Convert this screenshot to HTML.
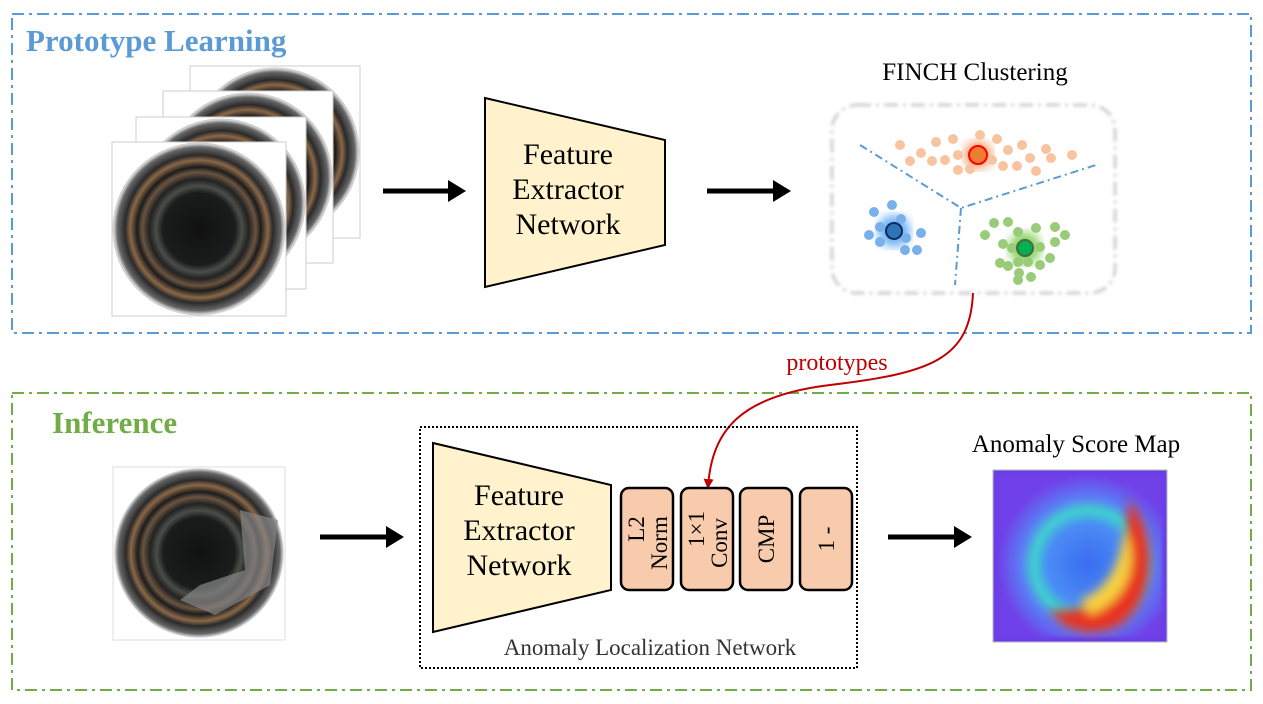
<!DOCTYPE html>
<html><head><meta charset="utf-8"><style>body{margin:0;background:#fff}svg{display:block}text{font-family:"Liberation Serif",serif}</style></head><body>
<svg width="1263" height="704" viewBox="0 0 1263 704" xmlns="http://www.w3.org/2000/svg">
<defs>
<radialGradient id="ring" cx="50%" cy="50%" r="50%">
<stop offset="0" stop-color="#111"/><stop offset="0.42" stop-color="#1a1c1c"/><stop offset="0.5" stop-color="#4a4d48"/><stop offset="0.58" stop-color="#222"/><stop offset="0.66" stop-color="#6a5440"/><stop offset="0.72" stop-color="#1c1c1c"/><stop offset="0.8" stop-color="#8a6848"/><stop offset="0.86" stop-color="#2a2a2a"/><stop offset="0.95" stop-color="#666"/><stop offset="1" stop-color="#eee"/></radialGradient>
<radialGradient id="heat" cx="55%" cy="55%" r="55%"><stop offset="0" stop-color="#3a6cf0"/><stop offset="0.45" stop-color="#4a8cf5"/><stop offset="0.6" stop-color="#40d0d0"/><stop offset="0.75" stop-color="#5a7cf5"/><stop offset="1" stop-color="#7040e8"/></radialGradient>
<filter id="bl"><feGaussianBlur stdDeviation="5"/></filter>
<filter id="b2"><feGaussianBlur stdDeviation="1.5"/></filter>
<marker id="ar" markerWidth="10" markerHeight="10" refX="8" refY="5" orient="auto" markerUnits="userSpaceOnUse"><path d="M0,0 L10,5 L0,10 z" fill="#c00000"/></marker>
</defs>
<rect x="12" y="14" width="1239" height="319" fill="none" stroke="#5b9bd5" stroke-width="2" stroke-dasharray="12,5,3,5"/>
<text x="26" y="51" font-size="31" font-weight="bold" fill="#5b9bd5">Prototype Learning</text>
<rect x="12" y="393" width="1239" height="297" fill="none" stroke="#70ad47" stroke-width="2" stroke-dasharray="12,5,3,5"/>
<text x="52" y="433" font-size="31" font-weight="bold" fill="#70ad47">Inference</text>
<g stroke="#ccc" stroke-width="1">
<rect x="190" y="66" width="170" height="172" fill="#fff"/><circle cx="275" cy="152" r="84" fill="url(#ring)"/>
<rect x="163" y="91" width="170" height="172" fill="#fff"/><circle cx="248" cy="177" r="84" fill="url(#ring)"/>
<rect x="136" y="117" width="170" height="172" fill="#fff"/><circle cx="221" cy="203" r="84" fill="url(#ring)"/>
<rect x="112" y="142" width="174" height="174" fill="#fff"/><circle cx="199" cy="229" r="86" fill="url(#ring)"/>
</g>
<g stroke="#000" stroke-width="5"><line x1="383" y1="191" x2="450" y2="191"/><line x1="707" y1="191" x2="775" y2="191"/><line x1="320" y1="537" x2="388" y2="537"/><line x1="888" y1="537" x2="956" y2="537"/></g>
<g fill="#000"><path d="M448,180 L466,191 L448,202z"/><path d="M773,180 L791,191 L773,202z"/><path d="M386,526 L404,537 L386,548z"/><path d="M954,526 L972,537 L954,548z"/></g>
<path d="M485,98 L665,140 L665,245 L485,287 z" fill="#fff2cc" stroke="#000" stroke-width="2"/>
<text font-size="30" text-anchor="middle"><tspan x="568" y="164">Feature</tspan><tspan x="568" y="199">Extractor</tspan><tspan x="568" y="234">Network</tspan></text>
<text x="975" y="80" font-size="25" text-anchor="middle">FINCH Clustering</text>
<rect x="832" y="105" width="283" height="188" rx="25" fill="#fff" stroke="#ccc" stroke-width="3" stroke-dasharray="14,5,3,5" filter="url(#b2)"/>
<g stroke="#5b9bd5" stroke-width="2" stroke-dasharray="8,4,2,4" fill="none"><path d="M860,145 L961,208 L1096,165"/><path d="M961,208 L955,285"/></g>
<circle cx="978" cy="155" r="14" fill="#f4a070" filter="url(#bl)"/>
<circle cx="894" cy="231" r="16" fill="#6aaef5" filter="url(#bl)"/>
<circle cx="1025" cy="248" r="16" fill="#8ad060" filter="url(#bl)"/>
<g fill="#f8c4a0"><circle cx="900" cy="145" r="5"/><circle cx="910" cy="161" r="5"/><circle cx="921" cy="153" r="5"/><circle cx="932" cy="161" r="5"/><circle cx="936" cy="142" r="5"/><circle cx="945" cy="160" r="5"/><circle cx="953" cy="139" r="5"/><circle cx="958" cy="155" r="5"/><circle cx="958" cy="170" r="5"/><circle cx="970" cy="169" r="5"/><circle cx="980" cy="135" r="5"/><circle cx="997" cy="139" r="5"/><circle cx="992" cy="160" r="5"/><circle cx="1003" cy="166" r="5"/><circle cx="1008" cy="150" r="5"/><circle cx="1017" cy="166" r="5"/><circle cx="1022" cy="145" r="5"/><circle cx="1030" cy="158" r="5"/><circle cx="1036" cy="171" r="5"/><circle cx="1046" cy="149" r="5"/><circle cx="1051" cy="158" r="5"/><circle cx="1072" cy="155" r="5"/></g>
<g fill="#78b0ec"><circle cx="874" cy="212" r="5"/><circle cx="892" cy="205" r="5"/><circle cx="869" cy="235" r="5"/><circle cx="880" cy="227" r="5"/><circle cx="880" cy="242" r="5"/><circle cx="901" cy="219" r="5"/><circle cx="906" cy="238" r="5"/><circle cx="921" cy="233" r="5"/><circle cx="905" cy="250" r="5"/><circle cx="917" cy="250" r="5"/></g>
<g fill="#98cc78"><circle cx="985" cy="235" r="5"/><circle cx="994" cy="223" r="5"/><circle cx="1008" cy="222" r="5"/><circle cx="1018" cy="232" r="5"/><circle cx="1036" cy="228" r="5"/><circle cx="1055" cy="227" r="5"/><circle cx="1065" cy="235" r="5"/><circle cx="1055" cy="242" r="5"/><circle cx="1003" cy="244" r="5"/><circle cx="1012" cy="248" r="5"/><circle cx="1040" cy="247" r="5"/><circle cx="1050" cy="258" r="5"/><circle cx="1000" cy="263" r="5"/><circle cx="1008" cy="266" r="5"/><circle cx="1018" cy="262" r="5"/><circle cx="1028" cy="262" r="5"/><circle cx="1040" cy="265" r="5"/><circle cx="1019" cy="273" r="5"/><circle cx="1031" cy="277" r="5"/><circle cx="1018" cy="280" r="5"/></g>
<circle cx="978" cy="155" r="9" fill="#ed7d31" stroke="#f00" stroke-width="2"/>
<circle cx="894" cy="231" r="8" fill="#2e75b6" stroke="#0a2a5a" stroke-width="2"/>
<circle cx="1025" cy="248" r="8" fill="#00b050" stroke="#4a6a3a" stroke-width="2"/>
<path d="M973,293 C970,360 930,373 830,385 C740,396 712,430 708,487" fill="none" stroke="#c00000" stroke-width="2" marker-end="url(#ar)"/>
<text x="837" y="370" font-size="24" fill="#c00000" text-anchor="middle">prototypes</text>
<rect x="113" y="467" width="172" height="173" fill="#fff" stroke="#ddd"/>
<circle cx="199" cy="553" r="85" fill="url(#ring)"/>
<path d="M240,510 L278,520 L270,585 L215,615 L180,600 L200,585 L245,570 z" fill="#888" opacity="0.7"/>
<rect x="420" y="427" width="437" height="241" fill="none" stroke="#000" stroke-width="2" stroke-dasharray="2,2"/>
<path d="M433,443 L611,485 L611,590 L433,632 z" fill="#fff2cc" stroke="#000" stroke-width="2"/>
<text font-size="30" text-anchor="middle"><tspan x="519" y="505">Feature</tspan><tspan x="519" y="540">Extractor</tspan><tspan x="519" y="575">Network</tspan></text>
<g fill="#f8cbad" stroke="#000" stroke-width="2.5"><rect x="621" y="488" width="52" height="102" rx="8"/><rect x="681" y="488" width="52" height="102" rx="8"/><rect x="740" y="488" width="52" height="102" rx="8"/><rect x="800" y="488" width="52" height="102" rx="8"/></g>
<g font-size="23" text-anchor="middle">
<text transform="translate(647,539) rotate(-90)"><tspan x="10" y="-3">L2</tspan><tspan x="-4" y="20">Norm</tspan></text>
<text transform="translate(707,539) rotate(-90)"><tspan x="10" y="-3">1×1</tspan><tspan x="-4" y="20">Conv</tspan></text>
<text transform="translate(766,539) rotate(-90)" y="8">CMP</text>
<text transform="translate(826,539) rotate(-90)" y="8">1 -</text>
</g>
<text x="650" y="655" font-size="23" fill="#333" text-anchor="middle">Anomaly Localization Network</text>
<text x="1076" y="452" font-size="25" text-anchor="middle">Anomaly Score Map</text>
<rect x="993" y="470" width="174" height="172" fill="#6a3ee8" stroke="#bbb"/>
<rect x="998" y="475" width="164" height="162" fill="url(#heat)" filter="url(#b2)"/>
<g filter="url(#bl)"><path d="M1130,500 C1160,540 1155,600 1120,625 C1090,640 1060,630 1050,610 C1080,615 1110,600 1125,570 C1130,545 1125,520 1130,500z" fill="#e83020"/><path d="M1125,530 C1140,560 1130,600 1090,615 L1080,600 C1110,590 1120,560 1125,530z" fill="#f8d040"/></g>
</svg>
</body></html>
